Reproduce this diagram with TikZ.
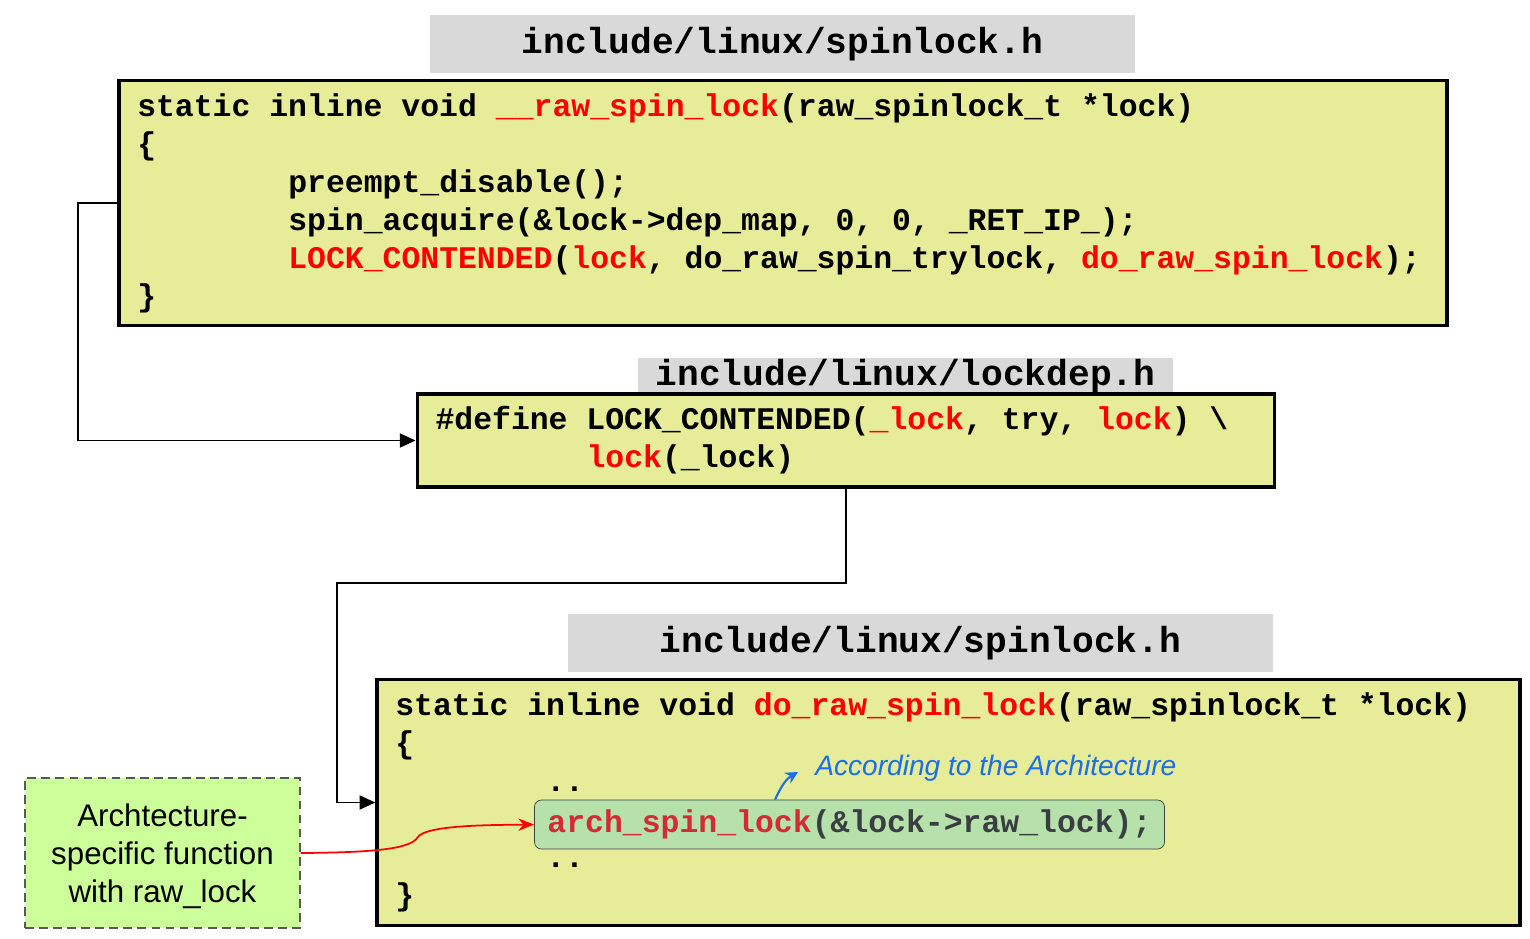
\documentclass[tikz,border=0pt]{standalone}
\usepackage{fontspec}
\setmainfont{Liberation Sans}
\setmonofont{Liberation Mono}
\usepackage{xcolor}
\usepackage{tikz}
\usetikzlibrary{calc, positioning, arrows.meta}

\definecolor{codeyellow}{HTML}{E6EC98}
\definecolor{headgray}{HTML}{D9D9D9}
\definecolor{archgreen}{HTML}{B7E1AB}
\definecolor{notegreen}{HTML}{CCFF99}
\definecolor{annoblue}{HTML}{1C6EEB}
\definecolor{archred}{HTML}{D42A35}

\newcommand{\rd}[1]{\textcolor{red}{#1}}
\newcommand{\tabin}{\hphantom{xxxxxxxx}}
\newcommand{\monospc}{\spaceskip=0.6em\relax\xspaceskip=0.6em\relax}

\tikzset{
  filehead/.style={fill=headgray, inner sep=0pt,
    font=\ttfamily\bfseries\fontsize{20.6}{24}\selectfont},
  codebox/.style={draw=black, line width=2.2pt, fill=codeyellow, align=left,
    inner xsep=0.36cm, inner ysep=0pt,
    font=\frenchspacing\ttfamily\bfseries\fontsize{17.9}{21.6}\selectfont},
  archbox/.style={draw=black!75, thin, fill=archgreen, rounded corners=4pt,
    inner xsep=0.26cm, minimum height=0.98cm,
    font=\frenchspacing\ttfamily\bfseries\fontsize{17.9}{21.6}\selectfont},
  notebox/.style={draw=black!65, dash pattern=on 5pt off 3pt, line width=0.8pt, fill=notegreen,
    align=center, minimum width=5.5cm, minimum height=3cm,
    font=\fontsize{17.8}{21.6}\selectfont},
  flow/.style={-{Triangle[length=9pt, width=8pt]}, line width=1.1pt},
}

\begin{document}
\begin{tikzpicture}[>=stealth]

    % =================================================================
    % 1. KHUNG HINH
    % =================================================================
    \useasboundingbox (0,0) rectangle (30.6,-18.76);

    % =================================================================
    % 2. TEN CAC TEP (NEN XAM)
    % =================================================================
    \node[filehead, minimum width=14.1cm, minimum height=1.16cm] (head1) at (15.65,-0.88) {include/linux/spinlock.h};
    \node[filehead, minimum width=10.7cm, minimum height=0.74cm] (head2) at (18.11,-7.53) {include/linux/lockdep.h};
    \node[filehead, minimum width=14.1cm, minimum height=1.16cm] (head3) at (18.41,-12.86) {include/linux/spinlock.h};

    % =================================================================
    % 3. CAC KHOI MA NGUON
    % =================================================================
    \node[codebox, text width=25.83cm, minimum height=4.9cm] (spin) at (15.66,-4.06) {\monospc
      static inline void \rd{\_\_raw\_spin\_lock}(raw\_spinlock\_t *lock)\\
      \{\\
      \tabin preempt\_disable();\\
      \tabin spin\_acquire(\&lock->dep\_map, 0, 0, \_RET\_IP\_);\\
      \tabin \rd{LOCK\_CONTENDED}(\rd{lock}, do\_raw\_spin\_trylock, \rd{do\_raw\_spin\_lock});\\
      \}};

    \node[codebox, text width=16.42cm, minimum height=1.85cm] (dep) at (16.92,-8.81) {\monospc
      \#define LOCK\_CONTENDED(\rd{\_lock}, try, \rd{lock}) \textbackslash\\
      \tabin \rd{lock}(\_lock)};

    \node[codebox, text width=22.13cm, minimum height=4.92cm] (dolock) at (18.97,-16.05) {\monospc
      static inline void \rd{do\_raw\_spin\_lock}(raw\_spinlock\_t *lock)\\
      \{\\
      \tabin ..\\
      \mbox{}\\
      \tabin ..\\
      \}};

    % Lenh phu thuoc kien truc
    \node[archbox] (arch) at (16.99,-16.49) {%
      \textcolor{archred}{arch\_spin\_lock}\textcolor{black!85!cyan}{(\&lock->raw\_lock);}};

    % Ghi chu ben trai
    \node[notebox] (note) at (3.25,-17.06) {\rule{0pt}{0.6cm}Archtecture-\\specific function\\with raw\_lock};

    % Chu thich viet tay
    \node[anchor=west, inner sep=0pt, text=annoblue,
      font=\itshape\fontsize{16}{18}\selectfont] (anno) at (16.3,-15.36) {According to the Architecture};

    % =================================================================
    % 4. CAC MUI TEN NOI
    % =================================================================
    \coordinate (turnA) at (1.56,-8.81);
    \coordinate (turnB) at (6.74,-11.66);
    \coordinate (annoFoot) at ([xshift=-1.49cm]arch.north);

    \draw[flow] (spin.west) -| (turnA) -- (dep.west);
    \draw[flow] (dep.south) |- (turnB) |- (dolock.west);

    \draw[-{Stealth[length=9pt, width=7pt]}, red, line width=1pt] (note.east) .. controls (7.3,-17.05) and (8.2,-17.0) .. (8.35,-16.75)
      .. controls (8.5,-16.5) and (9.8,-16.5) .. (arch.west);

    \draw[-{Stealth[length=7pt, width=7pt]}, annoblue, line width=1.2pt] (annoFoot) to[out=65, in=210] ([xshift=-0.34cm, yshift=-0.08cm]anno.west);

\end{tikzpicture}
\end{document}
